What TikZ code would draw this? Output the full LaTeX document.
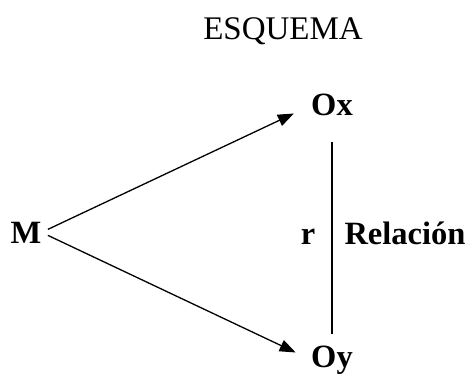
\documentclass[tikz,border=0pt]{standalone}
\usepackage{fontspec}
\setmainfont{Liberation Serif}
\usepackage{tikz}
\usetikzlibrary{arrows.meta,positioning}

\begin{document}
\begin{tikzpicture}[
  x=1pt, y=-1pt,
  title/.style={inner sep=0pt, anchor=base, font=\fontsize{33}{39}\selectfont},
  var/.style={inner sep=0pt, anchor=base, font=\fontsize{32.5}{39}\selectfont\bfseries},
  link/.style={line width=1.3pt},
  >={Triangle[length=16pt,width=12pt]}
]
\useasboundingbox (0,0) rectangle (468,377);

% Title
\node[title] (esq) at (283,40) {ESQUEMA};

% Sample and observations
\node[var] (m)  at (26,243)  {M};
\node[var] (ox) at (332,116) {Ox};
\node[var] (oy) at (332,367) {Oy};

% Arrows from the sample
\draw[link,->,shorten <=7pt,shorten >=19pt] (m.east) -- (ox.west);
\draw[link,->,shorten <=7pt,shorten >=17pt] (m.east) -- (oy.west);

% Relation between the observations
\draw[link,shorten <=25pt,shorten >=11pt] (ox.south) -- (oy.north);
\node[var] (r)   at (308,244) {r};
\node[var] (rel) at (405,244) {Relación};
\end{tikzpicture}
\end{document}
